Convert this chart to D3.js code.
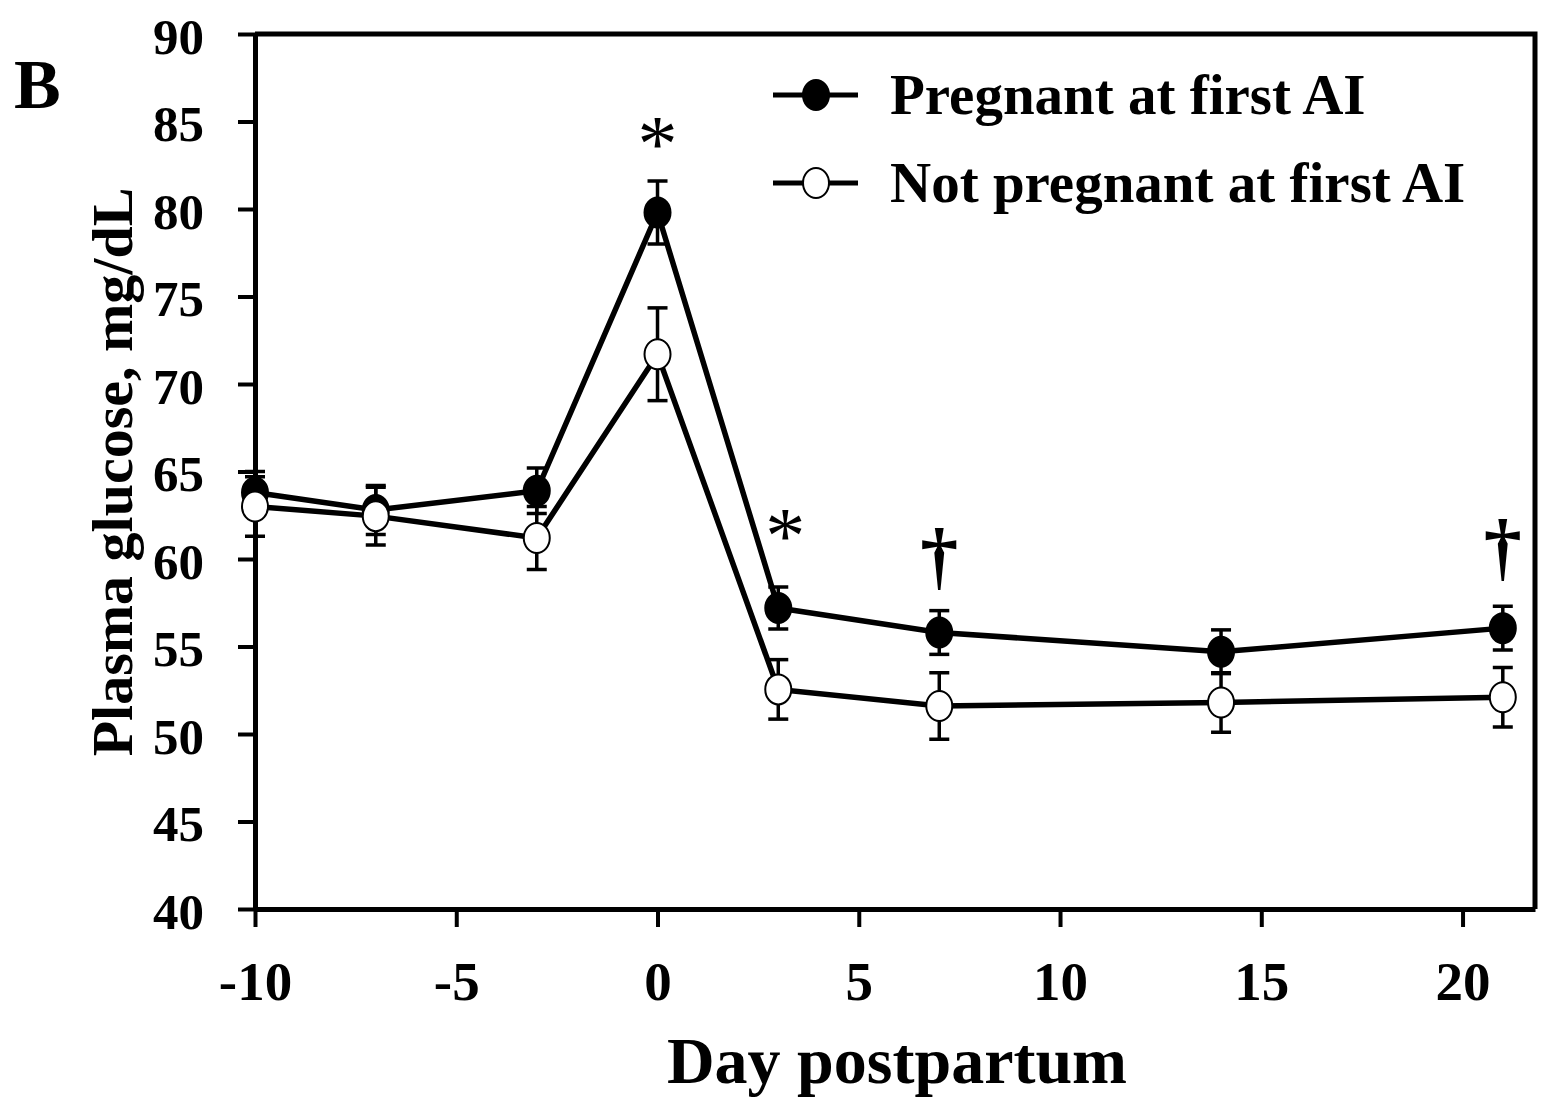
<!doctype html>
<html lang="en">
  <head>
    <meta charset="utf-8">
    <title>Plasma glucose</title>
    <style>
      body { margin: 0; background: #fff; }
      svg text { font-family: "Liberation Serif", "Times New Roman", serif; font-weight: bold; fill: #000; }
    </style>
  </head>
  <body>

    <script type="text/javascript" src="https://cdn.jsdelivr.net/npm/d3@7/dist/d3.min.js"></script>
    <script>

var days = [-10, -7, -3, 0, 3, 7, 14, 21];

var pregMean = [63.8, 62.8, 63.9, 79.8, 57.2, 55.8, 54.7, 56.05];
var pregSE   = [1.2, 1.4, 1.3, 1.8, 1.2, 1.25, 1.25, 1.25];

var openMean = [63.0, 62.45, 61.2, 71.7, 52.55, 51.6, 51.8, 52.1];
var openSE   = [1.7, 1.65, 1.8, 2.65, 1.7, 1.9, 1.7, 1.7];

var xTicks = [-10, -5, 0, 5, 10, 15, 20];
var yTicks = [40, 45, 50, 55, 60, 65, 70, 75, 80, 85, 90];

var marks = [
  { day: 0,  value: 82.2,  sym: "*" },
  { day: 3,  value: 59.8,  sym: "*" },
  { day: 7,  value: 58.75, sym: "\u2020" },
  { day: 21, value: 59.25, sym: "\u2020" }
];

var legendNames = ["Pregnant at first AI", "Not pregnant at first AI"];

var W = 1547, H = 1103;
var margin = { top: 34, right: 12, bottom: 194, left: 255 };

var svg = d3.select("body")
    .append("svg")
    .attr("width", W)
    .attr("height", H);

var x = d3.scaleLinear()
    .domain([-10, 21.8])
    .range([margin.left, W - margin.right]);

var y = d3.scaleLinear()
    .domain([40, 90])
    .range([H - margin.bottom, margin.top]);

// frame: top + right
svg.append("path")
   .attr("d", "M" + x(-10) + "," + y(90) + "H" + x(21.8) + "V" + y(40))
   .attr("fill", "none")
   .attr("stroke", "#000")
   .attr("stroke-width", 5);

var yAxis = svg.append("g")
   .attr("transform", "translate(" + x(-10) + ",0)")
   .call(d3.axisLeft(y).tickValues(yTicks).tickSize(17).tickSizeOuter(0).tickPadding(34));

var xAxis = svg.append("g")
   .attr("transform", "translate(0," + y(40) + ")")
   .call(d3.axisBottom(x).tickValues(xTicks).tickSize(18).tickSizeOuter(0).tickPadding(34)
         .tickFormat(function(d){ return d < 0 ? "-" + Math.abs(d) : d; }));

[xAxis, yAxis].forEach(function(a){
  a.select(".domain").attr("stroke-width", 5);
  a.selectAll(".tick line").attr("stroke-width", 4);
});
yAxis.selectAll("text").style("font-size", "51px").attr("dy", "0.38em");
xAxis.selectAll("text").style("font-size", "55px");

// axis titles
svg.append("text")
   .attr("transform", "translate(132,472) rotate(-90)")
   .attr("text-anchor", "middle")
   .style("font-size", "58px")
   .text("Plasma glucose,  mg/dL");

svg.append("text")
   .attr("x", 897)
   .attr("y", 1083)
   .attr("text-anchor", "middle")
   .style("font-size", "66px")
   .text("Day postpartum");

svg.append("text")
   .attr("x", 14)
   .attr("y", 108)
   .style("font-size", "70px")
   .text("B");

var series = [
  { mean: pregMean, se: pregSE, fill: "#000" },
  { mean: openMean, se: openSE, fill: "#fff" }
];

var line = d3.line()
    .x(function(d){ return x(d[0]); })
    .y(function(d){ return y(d[1]); });

series.forEach(function(s){
  var pts = days.map(function(d, i){ return [d, s.mean[i], s.se[i]]; });

  svg.append("path")
     .datum(pts)
     .attr("d", line)
     .attr("fill", "none")
     .attr("stroke", "#000")
     .attr("stroke-width", 5.5);

  var eb = svg.append("g").attr("stroke", "#000").attr("stroke-width", 3.5);
  eb.selectAll(".stem")
    .data(pts).enter().append("line")
    .attr("x1", function(d){ return x(d[0]); })
    .attr("x2", function(d){ return x(d[0]); })
    .attr("y1", function(d){ return y(d[1] - d[2]); })
    .attr("y2", function(d){ return y(d[1] + d[2]); });
  [-1, 1].forEach(function(sgn){
    eb.selectAll(".cap" + sgn)
      .data(pts).enter().append("line")
      .attr("x1", function(d){ return x(d[0]) - 10; })
      .attr("x2", function(d){ return x(d[0]) + 10; })
      .attr("y1", function(d){ return y(d[1] + sgn * d[2]); })
      .attr("y2", function(d){ return y(d[1] + sgn * d[2]); });
  });

  svg.append("g").selectAll("ellipse")
     .data(pts).enter().append("ellipse")
     .attr("cx", function(d){ return x(d[0]); })
     .attr("cy", function(d){ return y(d[1]); })
     .attr("rx", 13)
     .attr("ry", 15)
     .attr("fill", s.fill)
     .attr("stroke", "#000")
     .attr("stroke-width", 2);
});

// significance marks
svg.selectAll(".sig")
   .data(marks).enter().append("text")
   .attr("x", function(d){ return x(d.day) + (d.day === 3 ? 7 : 0); })
   .attr("y", function(d){ return y(d.value); })
   .attr("text-anchor", "middle")
   .style("font-size", function(d){ return d.sym === "*" ? "80px" : "76px"; })
   .style("font-weight", function(d){ return d.sym === "*" ? "normal" : "bold"; })
   .text(function(d){ return d.sym; });

// legend
var legend = svg.append("g");
legendNames.forEach(function(name, i){
  var ly = 95 + i * 88;
  legend.append("line")
        .attr("x1", 773).attr("x2", 858)
        .attr("y1", ly).attr("y2", ly)
        .attr("stroke", "#000").attr("stroke-width", 5);
  legend.append("ellipse")
        .attr("cx", 816).attr("cy", ly)
        .attr("rx", 13).attr("ry", 15)
        .attr("fill", series[i].fill)
        .attr("stroke", "#000").attr("stroke-width", 2);
  legend.append("text")
        .attr("x", 890).attr("y", ly + 19)
        .style("font-size", "57px")
        .text(name);
});

    </script>
  </body>
</html>
